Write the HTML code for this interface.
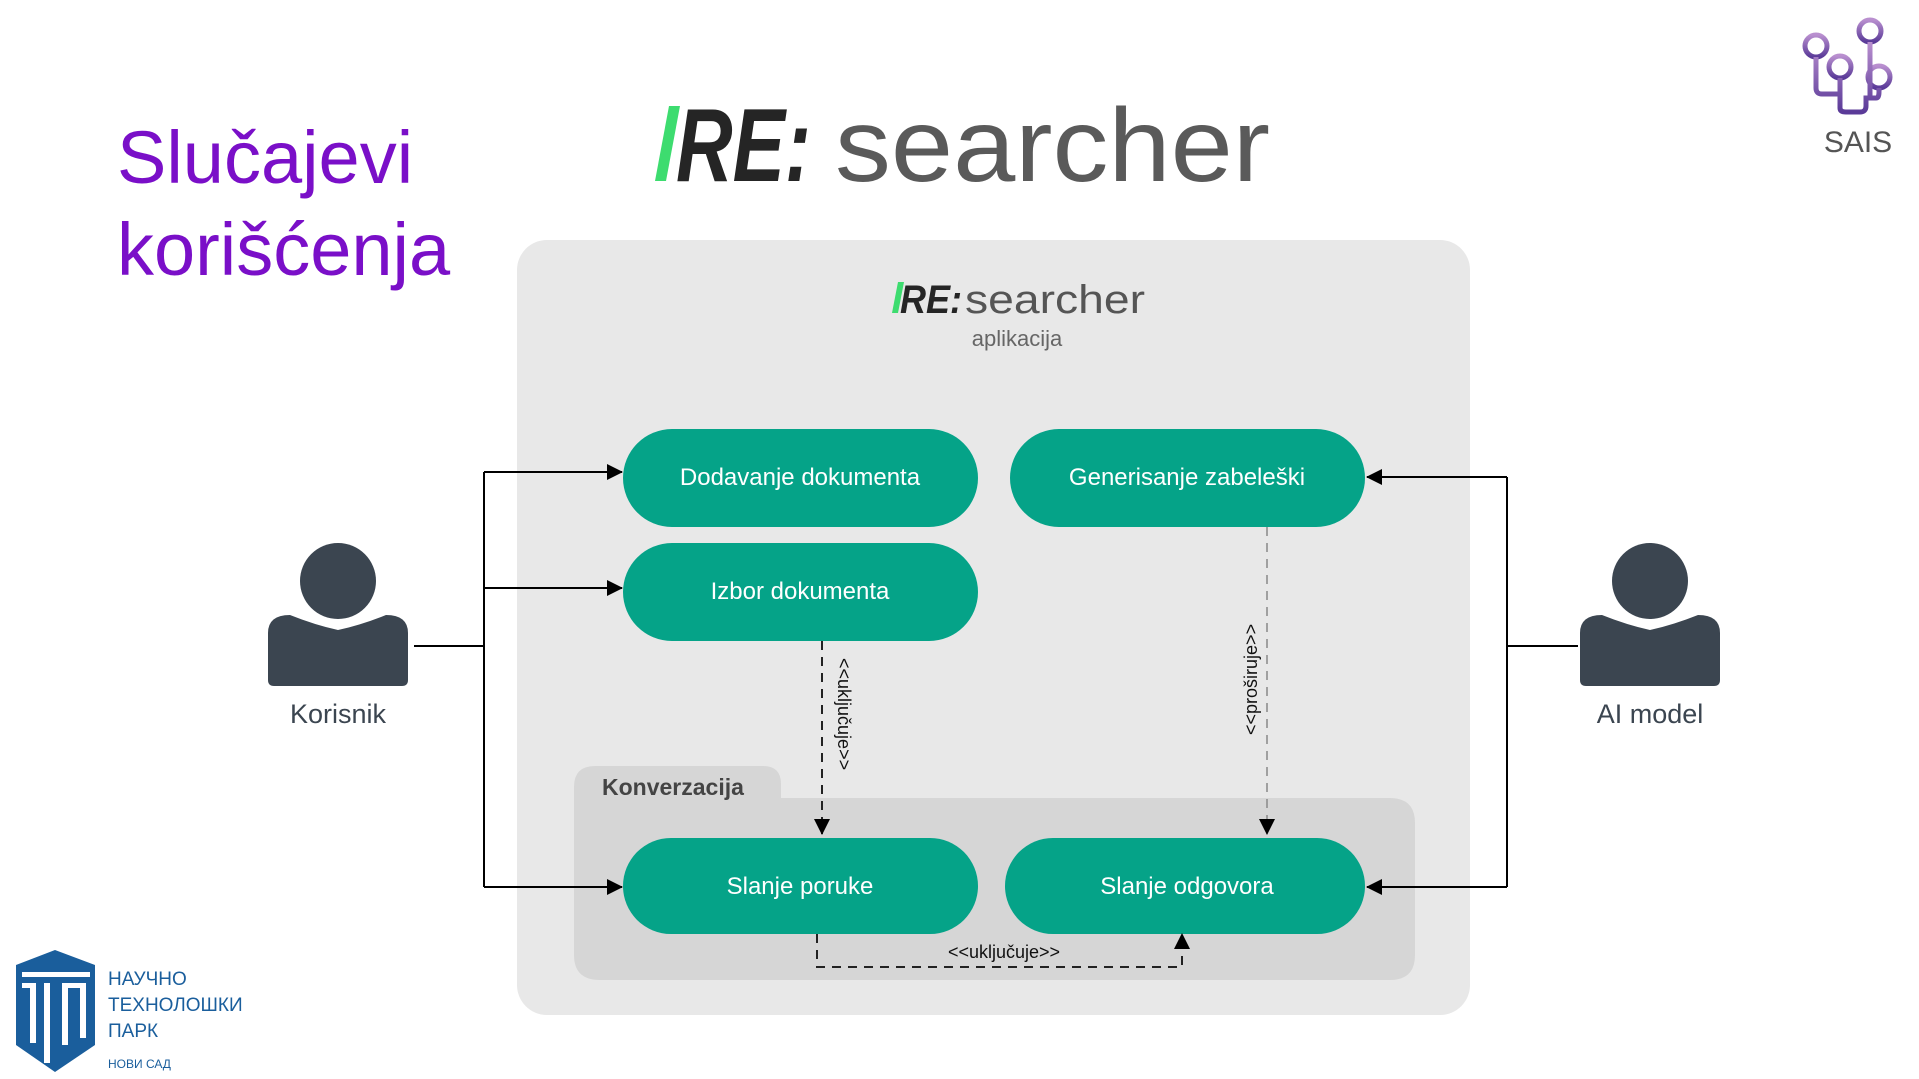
<!DOCTYPE html>
<html><head><meta charset="utf-8"><style>
body{margin:0;width:1919px;height:1079px;background:#fff;overflow:hidden;font-family:"Liberation Sans",sans-serif;position:relative}
.t{position:absolute;color:#7a0fc8;font-size:74px;left:117px;line-height:1}
</style></head><body>
<div class="t" style="top:121px">Slučajevi</div>
<div class="t" style="top:213px">korišćenja</div>
<svg width="1919" height="1079" style="position:absolute;left:0;top:0" font-family="Liberation Sans, sans-serif">
<defs>
<marker id="b" markerWidth="16" markerHeight="16" refX="15" refY="8" orient="auto" markerUnits="userSpaceOnUse"><path d="M0,0 L16,8 L0,16z" fill="#000"/></marker>
<linearGradient id="g" x1="0" y1="0" x2="0" y2="1"><stop offset="0" stop-color="#b98fcf"/><stop offset="1" stop-color="#5a3a98"/></linearGradient></defs>
<!-- big logo -->
<polygon points="669,106 680,106 666,181 655,181" fill="#3ddc6f"/>
<text x="676" y="181" font-size="104" font-weight="bold" font-style="italic" fill="#252525" textLength="135" lengthAdjust="spacingAndGlyphs">RE:</text>
<text x="835" y="181" font-size="104" fill="#5a5a5a" textLength="435" lengthAdjust="spacingAndGlyphs">searcher</text>
<!-- SAIS -->
<g fill="none" stroke="url(#g)" stroke-width="5">
<circle cx="1816" cy="46" r="11"/><circle cx="1840" cy="67" r="11"/><circle cx="1870" cy="31" r="11"/><circle cx="1879" cy="77" r="11"/>
<path d="M1816,57 V88 Q1816,94 1822,94 H1840 V78 M1840,94 V108 Q1840,112 1846,112 H1860 Q1866,112 1866,106 V98 H1876 Q1879,98 1879,92 V88 M1870,42 V98"/>
</g>
<text x="1858" y="152" font-size="30" text-anchor="middle" fill="#555">SAIS</text>
<!-- outer box -->
<rect x="517" y="240" width="953" height="775" rx="30" fill="#e8e8e8"/>
<polygon points="898,282 904,282 898,313 892,313" fill="#3ddc6f"/>
<text x="900" y="313" font-size="40" font-weight="bold" font-style="italic" fill="#252525" textLength="62" lengthAdjust="spacingAndGlyphs">RE:</text>
<text x="965" y="313" font-size="40" fill="#555" textLength="180" lengthAdjust="spacingAndGlyphs">searcher</text>
<text x="1017" y="346" font-size="22" text-anchor="middle" fill="#666">aplikacija</text>
<!-- konverzacija -->
<path d="M574,787 Q574,766 595,766 H763 Q781,766 781,784 V798 H1390 Q1415,798 1415,823 V955 Q1415,980 1390,980 H600 Q574,980 574,955 Z" fill="#d6d6d6"/>
<text x="602" y="795" font-size="23" font-weight="bold" fill="#444">Konverzacija</text>
<!-- pills -->
<g fill="#05a388">
<rect x="623" y="429" width="355" height="98" rx="49"/>
<rect x="1010" y="429" width="355" height="98" rx="49"/>
<rect x="623" y="543" width="355" height="98" rx="49"/>
<rect x="623" y="838" width="355" height="96" rx="48"/>
<rect x="1005" y="838" width="360" height="96" rx="48"/>
</g>
<g fill="#fff" font-size="24" text-anchor="middle">
<text x="800" y="485">Dodavanje dokumenta</text>
<text x="1187" y="485">Generisanje zabeleški</text>
<text x="800" y="599">Izbor dokumenta</text>
<text x="800" y="894">Slanje poruke</text>
<text x="1187" y="894">Slanje odgovora</text>
</g>
<!-- actors -->
<g fill="#3b4550">
<circle cx="338" cy="581" r="38"/>
<path d="M268,633 Q268,615 290,615 Q315,625 338,630 Q361,625 386,615 Q408,615 408,633 V680 Q408,686 402,686 H274 Q268,686 268,680Z"/>
<circle cx="1650" cy="581" r="38"/>
<path d="M1580,633 Q1580,615 1602,615 Q1627,625 1650,630 Q1673,625 1698,615 Q1720,615 1720,633 V680 Q1720,686 1714,686 H1586 Q1580,686 1580,680Z"/>
</g>
<text x="338" y="723" font-size="27" text-anchor="middle" fill="#3b4550">Korisnik</text>
<text x="1650" y="723" font-size="27" text-anchor="middle" fill="#3b4550">AI model</text>
<!-- connectors -->
<g stroke="#000" stroke-width="2" fill="none">
<path d="M414,646 H484 M484,472 V887"/>
<path d="M484,472 H622" marker-end="url(#b)"/>
<path d="M484,588 H622" marker-end="url(#b)"/>
<path d="M484,887 H622" marker-end="url(#b)"/>
<path d="M1578,646 H1507 M1507,477 V887"/>
<path d="M1507,477 H1367" marker-end="url(#b)"/>
<path d="M1507,887 H1367" marker-end="url(#b)"/>
</g>
<g stroke="#222" stroke-width="2" fill="none" stroke-dasharray="9,7">
<path d="M822,641 V834" marker-end="url(#b)"/>
<path d="M1267,527 V834" stroke="#888" stroke-width="1.5" marker-end="url(#b)"/>
<path d="M817,934 V967 H1182 V934" marker-end="url(#b)"/>
</g>
<g font-size="18" fill="#111">
<text transform="translate(838,658) rotate(90)">&lt;&lt;uključuje&gt;&gt;</text>
<text transform="translate(1257,735) rotate(-90)">&lt;&lt;proširuje&gt;&gt;</text>
<text x="1004" y="958" text-anchor="middle">&lt;&lt;uključuje&gt;&gt;</text>
</g>
<!-- NTP logo -->
<path d="M16,965 L55,950 L95,965 V1045 L55,1072 L16,1045Z" fill="#1a5e9c"/>
<g fill="#fff"><rect x="22" y="972" width="68" height="5"/><rect x="22" y="983" width="10" height="5"/><rect x="30" y="983" width="6" height="60"/><rect x="44" y="983" width="6" height="80"/><rect x="62" y="983" width="24" height="5"/><rect x="62" y="983" width="6" height="62"/><rect x="80" y="983" width="6" height="55"/></g>
<g fill="#1a5e9c" font-size="19"><text x="108" y="985">НАУЧНО</text><text x="108" y="1011">ТЕХНОЛОШКИ</text><text x="108" y="1037">ПАРК</text><text x="108" y="1068" font-size="12">НОВИ САД</text></g>
</svg>
</body></html>
